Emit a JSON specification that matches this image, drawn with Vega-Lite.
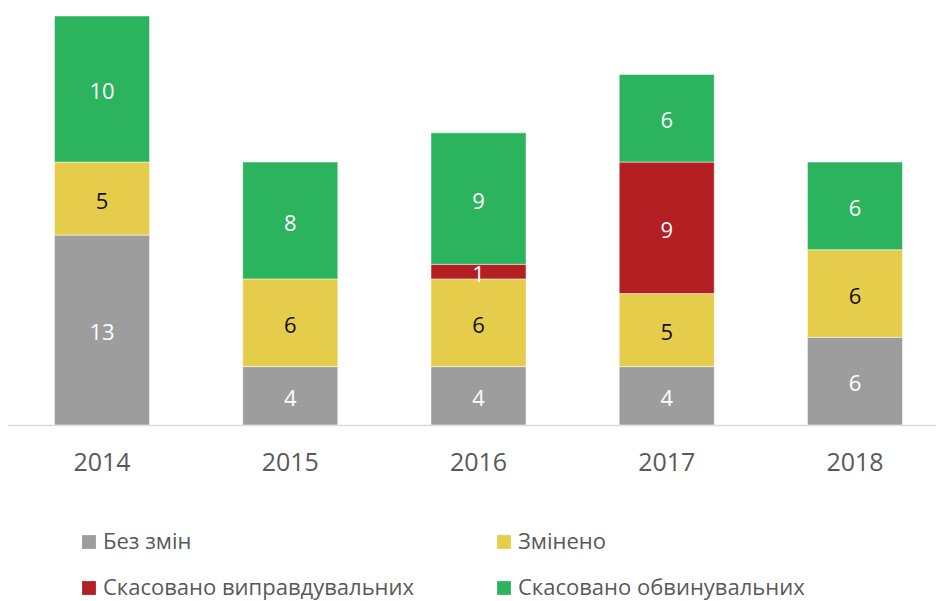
{
  "$schema": "https://vega.github.io/schema/vega-lite/v6.json",
  "width": 928,
  "height": 409,
  "autosize": "none",
  "padding": {"left": 8, "top": 16, "right": 0, "bottom": 176},
  "background": "white",
  "config": {"view": {"stroke": null}, "font": "Open Sans"},
  "data": {"values": [
    {"year": "2014", "cat": "Без змін", "ord": 1, "v": 13},
    {"year": "2014", "cat": "Змінено", "ord": 2, "v": 5},
    {"year": "2014", "cat": "Скасовано обвинувальних", "ord": 4, "v": 10},
    {"year": "2015", "cat": "Без змін", "ord": 1, "v": 4},
    {"year": "2015", "cat": "Змінено", "ord": 2, "v": 6},
    {"year": "2015", "cat": "Скасовано обвинувальних", "ord": 4, "v": 8},
    {"year": "2016", "cat": "Без змін", "ord": 1, "v": 4},
    {"year": "2016", "cat": "Змінено", "ord": 2, "v": 6},
    {"year": "2016", "cat": "Скасовано виправдувальних", "ord": 3, "v": 1},
    {"year": "2016", "cat": "Скасовано обвинувальних", "ord": 4, "v": 9},
    {"year": "2017", "cat": "Без змін", "ord": 1, "v": 4},
    {"year": "2017", "cat": "Змінено", "ord": 2, "v": 5},
    {"year": "2017", "cat": "Скасовано виправдувальних", "ord": 3, "v": 9},
    {"year": "2017", "cat": "Скасовано обвинувальних", "ord": 4, "v": 6},
    {"year": "2018", "cat": "Без змін", "ord": 1, "v": 6},
    {"year": "2018", "cat": "Змінено", "ord": 2, "v": 6},
    {"year": "2018", "cat": "Скасовано обвинувальних", "ord": 4, "v": 6}
  ]},
  "transform": [
    {"stack": "v", "groupby": ["year"], "sort": [{"field": "ord", "order": "ascending"}], "as": ["v0", "v1"]},
    {"calculate": "(datum.v0 + datum.v1) / 2", "as": "mid"}
  ],
  "encoding": {
    "x": {
      "field": "year", "type": "nominal", "title": null,
      "scale": {"range": [0, 941], "paddingInner": 0.495, "paddingOuter": 0.247},
      "axis": {
        "labelAngle": 0, "labelFontSize": 25, "labelColor": "#595959", "labelPadding": 25,
        "ticks": false, "domainColor": "#d9d9d9", "domainWidth": 1.5, "grid": false
      }
    }
  },
  "layer": [
    {
      "mark": {"type": "bar", "stroke": "white", "strokeWidth": 0.5},
      "encoding": {
        "y": {"field": "v0", "type": "quantitative", "scale": {"domain": [0, 28], "nice": false}, "axis": null},
        "y2": {"field": "v1"},
        "color": {
          "field": "cat", "type": "nominal",
          "scale": {
            "domain": ["Без змін", "Змінено", "Скасовано виправдувальних", "Скасовано обвинувальних"],
            "range": ["#9d9d9d", "#e5cd4b", "#b41f24", "#2bb35e"]
          },
          "legend": {
            "title": null, "orient": "none", "legendX": 70, "legendY": 515,
            "values": ["Без змін", "Скасовано виправдувальних", "Змінено", "Скасовано обвинувальних"],
            "columns": 2, "columnPadding": 78, "rowPadding": 24, "labelLimit": 0,
            "symbolType": "square", "symbolSize": 190, "symbolStrokeWidth": 0,
            "labelFontSize": 22, "labelColor": "#595959", "labelOffset": 3
          }
        }
      }
    },
    {
      "mark": {"type": "text", "fontSize": 22, "baseline": "middle", "dy": 3},
      "encoding": {
        "y": {"field": "mid", "type": "quantitative", "scale": {"domain": [0, 28], "nice": false}},
        "text": {"field": "v", "type": "quantitative"},
        "color": {
          "condition": {"test": "datum.cat === 'Змінено'", "value": "#111111"},
          "value": "white"
        }
      }
    }
  ]
}
